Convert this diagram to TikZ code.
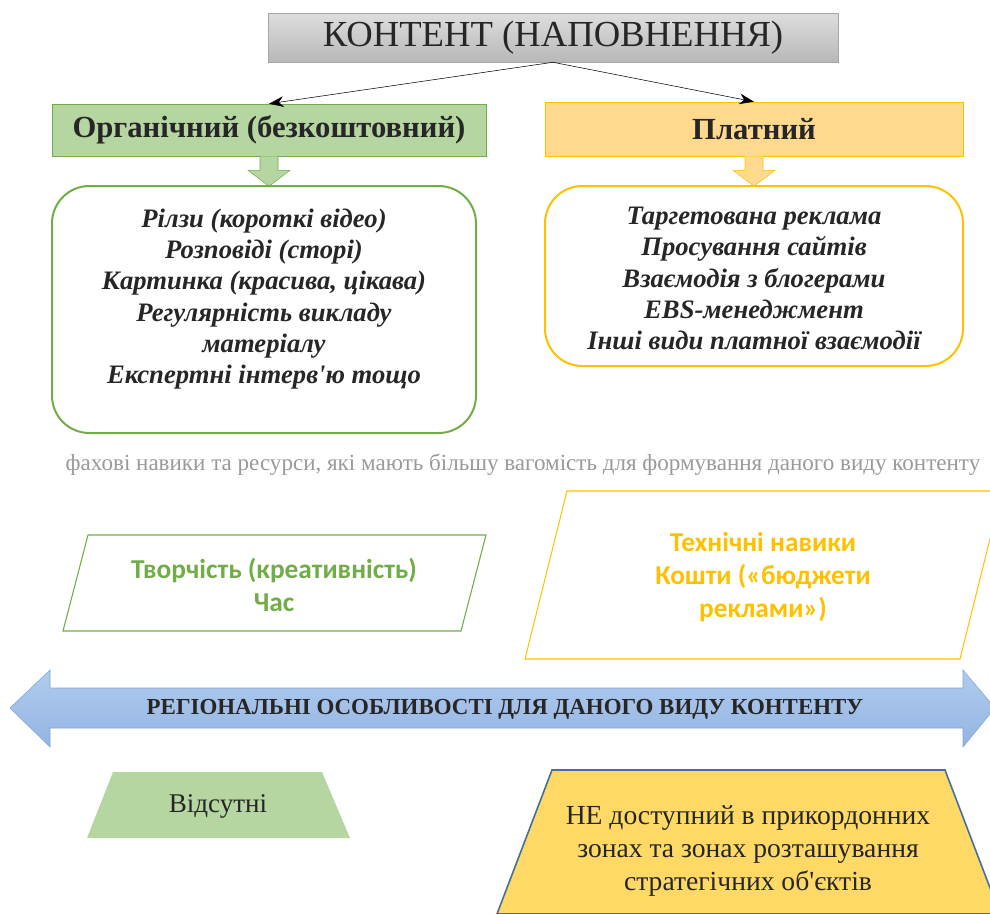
\documentclass[tikz,border=0pt]{standalone}
\usepackage{fontspec}
\setmainfont{Liberation Serif}
\newfontfamily\calib{Carlito}
\usepackage{xcolor}
\usetikzlibrary{arrows.meta,positioning,calc}
\definecolor{grn}{HTML}{70AD47}
\definecolor{grnfill}{HTML}{B5D6A1}
\definecolor{org}{HTML}{FFC000}
\definecolor{orgfill}{HTML}{FED98E}
\definecolor{bluetop}{HTML}{B0CBEE}
\definecolor{bluebot}{HTML}{93B4E2}
\definecolor{blueline}{HTML}{7EA6DA}
\definecolor{navy}{HTML}{41719C}
\definecolor{gold}{HTML}{FFD966}
\definecolor{txt}{HTML}{262626}

\begin{document}
\begin{tikzpicture}[
    x=0.75pt,y=-0.75pt,
    hdr/.style={draw,minimum height=39pt,align=center,font=\fontsize{23}{27}\selectfont\bfseries,text=txt},
    listbox/.style={draw,line width=1.5pt,rounded corners=28pt},
    listtext/.style={align=center,font=\fontsize{20}{23.4}\selectfont\bfseries\itshape,text=txt},
    skill/.style={align=center,font=\calib\fontsize{20.5}{24.5}\selectfont\bfseries},
    arrow/.style={-{Stealth[length=11pt,width=8pt]},thin}
  ]
    \useasboundingbox (0,0) rectangle (990,914);
    % top
    \node[draw=black!35,top color=black!13,bottom color=black!28,minimum width=427.5pt,minimum height=36.75pt,
      font=\fontsize{27.5}{32}\selectfont,text=txt] (title) at (553,37.5) {КОНТЕНТ (НАПОВНЕННЯ)};
    \node[hdr,draw=grn,fill=grnfill,minimum width=325.5pt] (hdrL) at (269,130) {Органічний (безкоштовний)};
    \node[hdr,draw=org,fill=orgfill,minimum width=313.5pt,minimum height=40.5pt] (hdrR) at (754,129) {Платний};
    \draw[arrow] (title.south) -- (hdrL.north);
    \draw[arrow] (title.south) -- (hdrR.north);
    \foreach \n/\f/\d in {hdrL/grnfill/grn,hdrR/orgfill/org}
      \filldraw[fill=\f,draw=\d,thin] ($(\n.south)+(-9,0)$) -- ++(0,14) -- ++(-12,0) -- ($(\n.south)+(0,30)$)
        -- ($(\n.south)+(21,14)$) -- ++(-12,0) -- ($(\n.south)+(9,0)$);
    % lists
    \node[listbox,draw=grn,minimum width=318pt,minimum height=185.25pt] (listL) at (264,309.5) {};
    \node[listtext] (itemsL) at (264,299)
      {Рілзи (короткі відео)\\Розповіді (сторі)\\Картинка (красива, цікава)\\Регулярність викладу\\матеріалу\\Експертні інтерв\textquotesingle ю тощо};
    \node[listbox,draw=org,minimum width=313.5pt,minimum height=135pt] (listR) at (754,276) {};
    \node[listtext] (itemsR) at (754,278.5)
      {Таргетована реклама\\Просування сайтів\\Взаємодія з блогерами\\EBS-менеджмент\\Інші види платної взаємодії};
    \node[text=black!40,font=\fontsize{17.3}{20}\selectfont] (note) at (523,465)
      {фахові навики та ресурси, які мають більшу вагомість для формування даного виду контенту};
    % skills
    \draw[grn,thick] (88,535) -- (486,535) -- (461,631) -- (63,631) -- cycle;
    \node[skill,text=grn] (skL) at (274,585) {Творчість (креативність)\\Час};
    \draw[org,thick] (567,491) -- (1002,491) -- (960,659) -- (525,659) -- cycle;
    \node[skill,text=org] (skR) at (763,577) {Технічні навики\\Кошти («бюджети\\реклами»)};
    % regional
    \draw[blueline,top color=bluetop,bottom color=bluebot,thin]
      (10,708) -- (50,670) -- (50,688) -- (963,688) -- (963,670) -- (995,708)
      -- (963,747) -- (963,728) -- (50,728) -- (50,747) -- cycle;
    \node[font=\fontsize{17.2}{20}\selectfont\bfseries,text=txt] (reg) at (505,709)
      {РЕГІОНАЛЬНІ ОСОБЛИВОСТІ ДЛЯ ДАНОГО ВИДУ КОНТЕНТУ};
    \fill[grnfill] (113,772) -- (322,772) -- (350,838) -- (87,838) -- cycle;
    \node[font=\fontsize{20.3}{24}\selectfont,text=txt] (regL) at (218,806) {Відсутні};
    \filldraw[fill=gold,draw=navy,line width=1.2pt] (552,770) -- (945,770) -- (1000,914) -- (497,914) -- cycle;
    \node[align=center,font=\fontsize{20.7}{24.75}\selectfont,text=txt] (regR) at (748,851)
      {НЕ доступний в прикордонних\\зонах та зонах розташування\\стратегічних об\textquotesingle єктів};
  \end{tikzpicture}
\end{document}
